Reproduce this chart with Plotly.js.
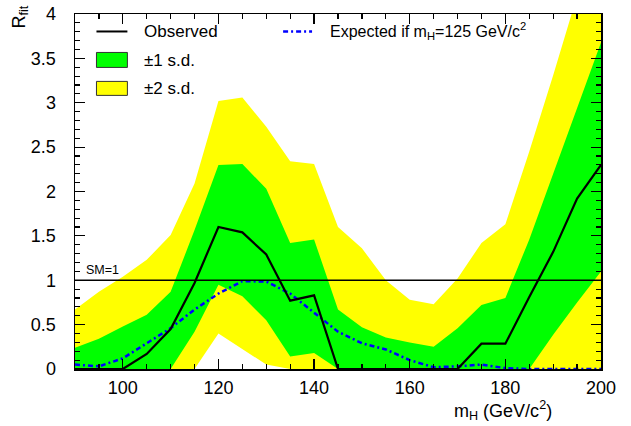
<!DOCTYPE html>
<html>
<head>
<meta charset="utf-8">
<script src="https://cdn.plot.ly/plotly-3.0.1.min.js"></script>
<style>html,body{margin:0;padding:0;background:#fff;}#chart{width:631px;height:426px;}</style>
</head>
<body>
<div id="chart"></div>
<script>
// ---- data ----
var mass     = [90,95,100,105,110,115,120,125,130,135,140,145,150,155,160,165,170,175,180,185,190,195,200];
var observed = [0,0,0,0.17,0.45,0.97,1.60,1.54,1.29,0.77,0.83,0,0,0,0,0,0,0.285,0.285,0.81,1.32,1.92,2.30];
var expected = [0.05,0.03,0.12,0.29,0.46,0.67,0.85,0.99,0.985,0.85,0.63,0.42,0.29,0.22,0.10,0.02,0.03,0.05,0.01,0,0,0,0];
var sd1Up    = [0.24,0.34,0.48,0.61,0.87,1.565,2.30,2.31,2.03,1.42,1.46,0.67,0.47,0.355,0.30,0.25,0.46,0.72,0.80,1.46,2.20,2.95,3.68];
var sd1Dn    = [0,0,0,0,0,0.42,0.95,0.82,0.55,0.14,0.18,0,0,0,0,0,0,0,0,0,0.385,0.75,1.10];
var sd2Up    = [0.67,0.87,1.04,1.23,1.51,2.09,3.02,3.06,2.73,2.34,2.31,1.60,1.36,1.00,0.78,0.73,1.02,1.42,1.63,2.45,3.31,4.2,5.1];
var sd2Dn    = [0,0,0,0,0,0,0.40,0.22,0.05,0,0,0,0,0,0,0,0,0,0,0,0,0,0];
var smLevel  = 1;
var xTitle = "m<sub>H</sub> (GeV/c<sup>2</sup>)";
var yTitle = "R<sub>fit</sub>";
var legendLabels = ["Observed", "\u00b11 s.d.", "\u00b12 s.d.", "Expected if m<sub>H</sub>=125 GeV/c<sup>2</sup>"];

// ---- layout geometry (pixels) ----
var W = 631, H = 426;
var L = 74.5, R = 601.5, T = 13.5, B = 369;
function px(x){ return (x - L) / (R - L); }
function py(y){ return (B - y) / (B - T); }
var FONT = "Liberation Sans, Arial, Helvetica, sans-serif";

var YEL = "#ffff00", GRN = "#00ff00";

var traces = [
  {x: mass, y: sd2Dn, mode: "lines", line: {width: 0}, hoverinfo: "skip", showlegend: false},
  {x: mass, y: sd2Up, mode: "lines", line: {width: 0}, fill: "tonexty", fillcolor: YEL, hoverinfo: "skip", showlegend: false},
  {x: mass, y: sd1Dn, mode: "lines", line: {width: 0}, hoverinfo: "skip", showlegend: false},
  {x: mass, y: sd1Up, mode: "lines", line: {width: 0}, fill: "tonexty", fillcolor: GRN, hoverinfo: "skip", showlegend: false},
  {x: mass, y: expected, mode: "lines", line: {color: "#0000ff", width: 2.5, dash: "5px,3px,2px,3px"}, showlegend: false},
  {x: mass, y: observed, mode: "lines", line: {color: "#000000", width: 2.2}, showlegend: false}
];

var axisCommon = {
  showline: true, linecolor: "#000", linewidth: 1.5, mirror: "ticks",
  ticks: "inside", tickcolor: "#000", tickwidth: 1.2,
  showgrid: false, zeroline: false,
  tickfont: {family: FONT, size: 18, color: "#000"}
};

var layout = {
  width: W, height: H,
  margin: {l: L, r: W - R, t: T, b: H - B, pad: 0},
  paper_bgcolor: "#fff", plot_bgcolor: "#fff",
  showlegend: false,
  xaxis: Object.assign({}, axisCommon, {
    range: [90, 200], dtick: 20, tick0: 0, ticklen: 10,
    minor: {dtick: 5, ticks: "inside", ticklen: 5, tickcolor: "#000", tickwidth: 1.2},
    ticklabelstandoff: 2
  }),
  yaxis: Object.assign({}, axisCommon, {
    range: [0, 4], dtick: 0.5, tick0: 0, ticklen: 10,
    minor: {dtick: 0.1, ticks: "inside", ticklen: 5, tickcolor: "#000", tickwidth: 1.2},
    ticklabelstandoff: 14
  }),
  shapes: [
    {type: "line", xref: "paper", yref: "y", x0: 0, x1: 1, y0: smLevel, y1: smLevel, line: {color: "#000", width: 1.5}},
    {type: "line", xref: "paper", yref: "paper", x0: px(96), x1: px(127), y0: py(31), y1: py(31), line: {color: "#000", width: 2}},
    {type: "line", xref: "paper", yref: "paper", x0: px(283), x1: px(312), y0: py(31), y1: py(31), line: {color: "#0000ff", width: 2.5, dash: "5px,3px,2px,3px"}},
    {type: "rect", xref: "paper", yref: "paper", x0: px(96), x1: px(127), y0: py(52), y1: py(67), fillcolor: GRN, line: {color: "#333", width: 1}},
    {type: "rect", xref: "paper", yref: "paper", x0: px(96), x1: px(127), y0: py(81), y1: py(95), fillcolor: YEL, line: {color: "#333", width: 1}}
  ],
  annotations: [
    {xref: "paper", yref: "paper", x: px(142), y: py(31), xanchor: "left", yanchor: "middle", text: legendLabels[0], showarrow: false, font: {family: FONT, size: 17, color: "#000"}},
    {xref: "paper", yref: "paper", x: px(142), y: py(60), xanchor: "left", yanchor: "middle", text: legendLabels[1], showarrow: false, font: {family: FONT, size: 17, color: "#000"}},
    {xref: "paper", yref: "paper", x: px(142), y: py(88), xanchor: "left", yanchor: "middle", text: legendLabels[2], showarrow: false, font: {family: FONT, size: 17, color: "#000"}},
    {xref: "paper", yref: "paper", x: px(328), y: py(31), xanchor: "left", yanchor: "middle", text: legendLabels[3], showarrow: false, font: {family: FONT, size: 16, color: "#000"}},
    {xref: "paper", yref: "y", x: px(84), y: smLevel, xanchor: "left", yanchor: "bottom", yshift: 1, text: "SM=1", showarrow: false, font: {family: FONT, size: 12.5, color: "#000"}},
    {xref: "paper", yref: "paper", x: px(554), y: py(411), xanchor: "right", yanchor: "middle", text: xTitle, showarrow: false, font: {family: FONT, size: 18, color: "#000"}},
    {xref: "paper", yref: "paper", x: px(19), y: py(3), xanchor: "center", yanchor: "top", textangle: -90, text: yTitle, showarrow: false, font: {family: FONT, size: 18, color: "#000"}}
  ]
};

Plotly.newPlot("chart", traces, layout, {staticPlot: true, displayModeBar: false});
</script>
</body>
</html>
